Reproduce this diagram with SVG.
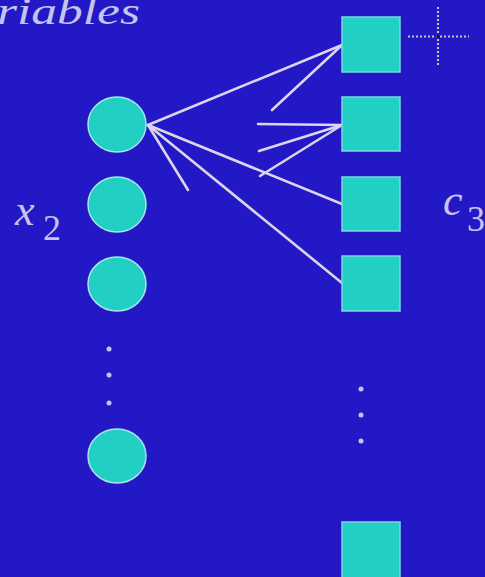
<svg xmlns="http://www.w3.org/2000/svg" width="485" height="577" viewBox="0 0 485 577">
<style>
.var{fill:#22cfc4;stroke:#a8e4ea;stroke-width:1.5}
.chk{fill:#22cfc4;stroke:#7ad8e0;stroke-width:1.5}
.edge{stroke:#dcd4ea;stroke-width:2.6;stroke-linecap:round;fill:none}
.dot{fill:#c8c4f0}
.lbl{fill:#c4c4ee;font-family:"Liberation Serif",serif}
.cross{stroke:#cfc4c0;stroke-width:2;stroke-dasharray:2 2}
</style>
<rect width="485" height="577" fill="#2218c6"/>
<text class="lbl" x="-3" y="24" font-size="38" font-style="italic" textLength="143" lengthAdjust="spacingAndGlyphs">riables</text>
<text class="lbl" x="15" y="225" font-size="44" font-style="italic">x</text>
<text class="lbl" x="43" y="240" font-size="36">2</text>
<text class="lbl" x="443" y="215" font-size="44" font-style="italic">c</text>
<text class="lbl" x="467" y="231" font-size="36">3</text>
<g id="connectors">
<line class="edge" x1="148" y1="125" x2="342" y2="45"/>
<line class="edge" x1="272" y1="110" x2="342" y2="45"/>
<line class="edge" x1="258" y1="124" x2="342" y2="125"/>
<line class="edge" x1="259" y1="151" x2="342" y2="125"/>
<line class="edge" x1="260" y1="176" x2="342" y2="125"/>
<line class="edge" x1="148" y1="125" x2="342" y2="204"/>
<line class="edge" x1="148" y1="125" x2="342" y2="283"/>
<line class="edge" x1="148" y1="125" x2="188" y2="190"/>
</g>
<g id="x1"><ellipse class="var" cx="117" cy="124.5" rx="29" ry="27.5"/></g>
<g id="x2"><ellipse class="var" cx="117" cy="204.5" rx="29" ry="27.5"/></g>
<g id="x3"><ellipse class="var" cx="117" cy="284" rx="29" ry="27"/></g>
<g id="xn"><ellipse class="var" cx="117" cy="456" rx="29" ry="27"/></g>
<g id="vdots">
<circle class="dot" cx="109" cy="349" r="2.5"/>
<circle class="dot" cx="109" cy="375" r="2.5"/>
<circle class="dot" cx="109" cy="403" r="2.5"/>
</g>
<g id="c1"><rect class="chk" x="342" y="17" width="58" height="55"/></g>
<g id="c2"><rect class="chk" x="342" y="97" width="58" height="54"/></g>
<g id="c3"><rect class="chk" x="342" y="177" width="58" height="54"/></g>
<g id="c4"><rect class="chk" x="342" y="256" width="58" height="55"/></g>
<g id="cm"><rect class="chk" x="342" y="522" width="58" height="60"/></g>
<g id="cdots">
<circle class="dot" cx="361" cy="389" r="2.5"/>
<circle class="dot" cx="361" cy="415" r="2.5"/>
<circle class="dot" cx="361" cy="441" r="2.5"/>
</g>
<g id="crosshair">
<line class="cross" x1="408" y1="36.5" x2="469" y2="36.5"/>
<line class="cross" x1="438" y1="7" x2="438" y2="67"/>
<circle cx="438" cy="36.5" r="1.8" fill="#201040"/>
</g>
</svg>
